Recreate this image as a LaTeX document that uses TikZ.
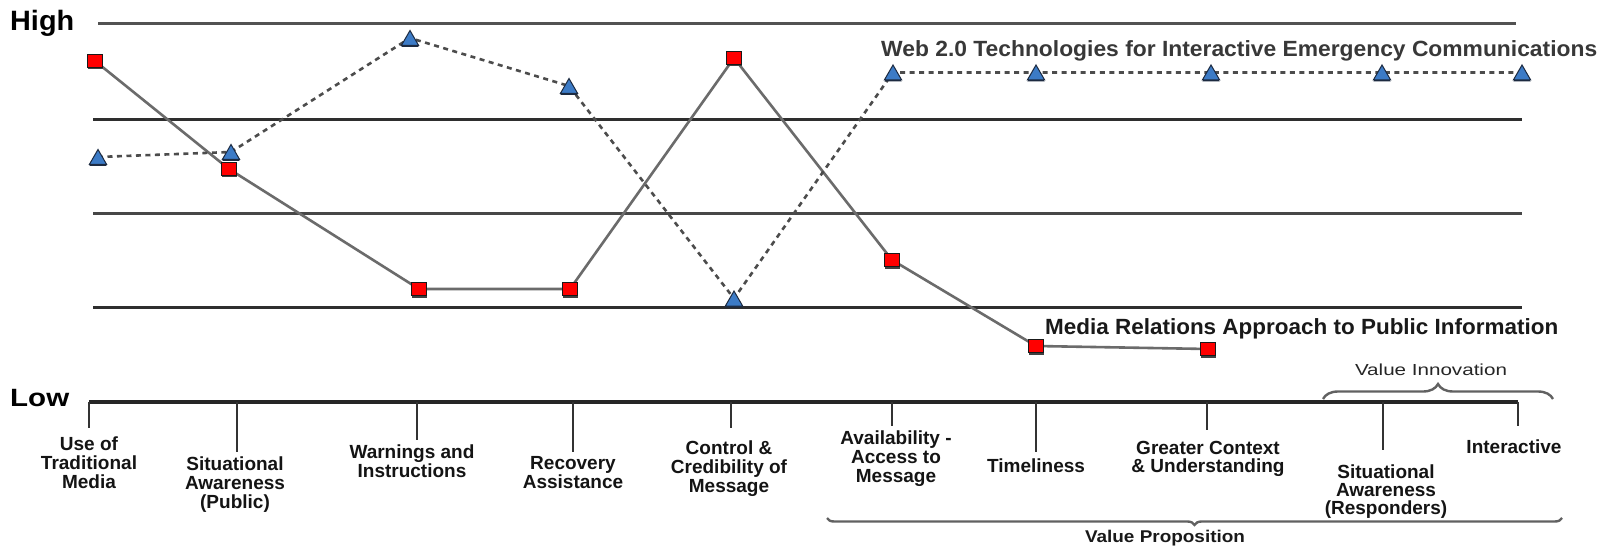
\documentclass[tikz,border=0pt]{standalone}
\usepackage{fontspec}
\setmainfont{Liberation Sans}
\usepackage{graphicx}
\usetikzlibrary{shapes.geometric,decorations.pathreplacing,shadows}
\newcommand{\fitw}[2]{\resizebox{#1}{\height}{#2}}
\definecolor{triblue}{HTML}{3C7BC6}
\definecolor{tridark}{HTML}{1C2A40}
\begin{document}
\begin{tikzpicture}[x=1pt,y=-1pt,
  gridline/.style={line width=3pt, draw=black!82},
  axisline/.style={line width=3.5pt, draw=black!85},
  tickline/.style={line width=2.6pt, draw=black!80},
  medialine/.style={line width=2.6pt, draw=black!58},
  webline/.style={line width=2.6pt, draw=black!70, dash pattern=on 5pt off 4.5pt},
  bracestyle/.style={line width=2.4pt, draw=black!62},
  mediasq/.style={rectangle, draw=black!90, line width=1pt, fill=red, minimum width=15pt, minimum height=13pt, inner sep=0pt,
    drop shadow={shadow xshift=0pt, shadow yshift=-2pt, opacity=1, fill=black!75}},
  webtri/.style={regular polygon, regular polygon sides=3, minimum size=20pt, inner sep=0pt, fill=triblue, draw=tridark, line width=1pt, yshift=-2.5pt,
    drop shadow={shadow xshift=0pt, shadow yshift=-1.5pt, opacity=1, fill=tridark}},
  lab/.style={align=center, inner sep=0pt, anchor=north, text=black!92, font=\bfseries\fontsize{19}{19}\selectfont},
  bigtxt/.style={anchor=base west, inner sep=0pt, text=black!90, font=\bfseries\fontsize{22}{22}\selectfont}
]
\useasboundingbox[fill=white] (0,0) rectangle (1608,548);

% level lines
\coordinate (g1a) at (98,23.5);  \coordinate (g1b) at (1516,23.5);
\coordinate (g2a) at (93,120);   \coordinate (g2b) at (1522,120);
\coordinate (g3a) at (93,213);   \coordinate (g3b) at (1522,213);
\coordinate (g4a) at (93,307);   \coordinate (g4b) at (1522,307);
\draw[gridline, draw=black!68, line width=2.6pt] (g1a) -- (g1b);
\draw[gridline] (g2a) -- (g2b);
\draw[gridline, draw=black!72] (g3a) -- (g3b);
\draw[gridline] (g4a) -- (g4b);

% axis and ticks
\coordinate (ax0) at (89,402); \coordinate (ax1) at (1518,402);
\draw[axisline] (ax0) -- (ax1);
\coordinate (k1a) at (89,402);   \coordinate (k1b) at (89,428);
\coordinate (k2a) at (237,402);  \coordinate (k2b) at (237,452);
\coordinate (k3a) at (417,402);  \coordinate (k3b) at (417,440);
\coordinate (k4a) at (573,402);  \coordinate (k4b) at (573,452);
\coordinate (k5a) at (731,402);  \coordinate (k5b) at (731,428);
\coordinate (k6a) at (892,402);  \coordinate (k6b) at (892,426);
\coordinate (k7a) at (1036,402); \coordinate (k7b) at (1036,452);
\coordinate (k8a) at (1207,402); \coordinate (k8b) at (1207,430);
\coordinate (k9a) at (1383,402); \coordinate (k9b) at (1383,450);
\coordinate (k10a) at (1518,402); \coordinate (k10b) at (1518,426);
\foreach \i in {1,...,10} {\draw[tickline] (k\i a) -- (k\i b);}

% data points
\coordinate (s1) at (95,61);
\coordinate (s2) at (229,169);
\coordinate (s3) at (419,289);
\coordinate (s4) at (570,289);
\coordinate (s5) at (734,58);
\coordinate (s6) at (892,260);
\coordinate (s7) at (1036,346);
\coordinate (s8) at (1208,349);
\coordinate (t1) at (98,157);
\coordinate (t2) at (231,152);
\coordinate (t3) at (410,38);
\coordinate (t4) at (569,86);
\coordinate (t5) at (734,298.5);
\coordinate (t6) at (893,72.5);
\coordinate (t7) at (1036,72.5);
\coordinate (t8) at (1211,72.5);
\coordinate (t9) at (1382,72.5);
\coordinate (t10) at (1522,72.5);

\draw[medialine] (s1) -- (s2) -- (s3) -- (s4) -- (s5) -- (s6) -- (s7) -- (s8);
\draw[webline] (t1) -- (t2) -- (t3) -- (t4) -- (t5) -- (t6) -- (t7) -- (t8) -- (t9) -- (t10);

\foreach \i in {1,...,8} {\node[mediasq] (ms\i) at (s\i) {};}
\foreach \i in {1,...,10} {\node[webtri] (wt\i) at (t\i) {};}

% series labels
\node[bigtxt, text=black!78] (webtxt) at (881,57) {\fitw{716pt}{Web 2.0 Technologies for Interactive Emergency Communications}};
\node[bigtxt] (mediatxt) at (1045,334) {\fitw{513pt}{Media Relations Approach to Public Information}};

% High / Low
\node[anchor=base west, inner sep=0pt, font=\bfseries\fontsize{28}{28}\selectfont] (high) at (10,31) {\fitw{64pt}{High}};
\node[anchor=base west, inner sep=0pt, font=\bfseries\fontsize{25}{25}\selectfont] (low) at (10,406) {\fitw{59pt}{Low}};

% category labels
\node[lab] (c1) at (89,436.5) {Use of\\Traditional\\Media};
\node[lab] (c2) at (235,456.5) {Situational\\Awareness\\(Public)};
\node[lab] (c3) at (412,444.5) {Warnings and\\Instructions};
\node[lab] (c4) at (573,456.5) {Recovery\\Assistance};
\node[lab] (c5) at (729,440.5) {Control \&\\Credibility of\\Message};
\node[lab] (c6) at (896,431) {Availability -\\Access to\\Message};
\node[lab] (c7) at (1036,458.5) {Timeliness};
\node[lab, font=\bfseries\fontsize{19}{17.5}\selectfont] (c8) at (1208,441.5) {Greater Context\\\& Understanding};
\node[lab, font=\bfseries\fontsize{19}{18}\selectfont] (c9) at (1386,464.5) {Situational\\Awareness\\(Responders)};
\node[lab] (c10) at (1514,439.5) {Interactive};

% braces
\coordinate (vi1) at (1323,399); \coordinate (vi2) at (1553,399);
\draw[bracestyle, decorate, decoration={brace, amplitude=15pt}] (vi1) -- (vi2);
\node[inner sep=0pt, text=black!85, font=\fontsize{16}{16}\selectfont] (vitxt) at (1431,370) {\fitw{152pt}{Value Innovation}};
\coordinate (vp1) at (1562,518); \coordinate (vp2) at (827,518);
\draw[bracestyle, decorate, decoration={brace, amplitude=7pt}] (vp1) -- (vp2);
\node[inner sep=0pt, text=black!90, font=\bfseries\fontsize{17}{17}\selectfont] (vptxt) at (1165,538) {\fitw{160pt}{Value Proposition}};
\end{tikzpicture}
\end{document}
